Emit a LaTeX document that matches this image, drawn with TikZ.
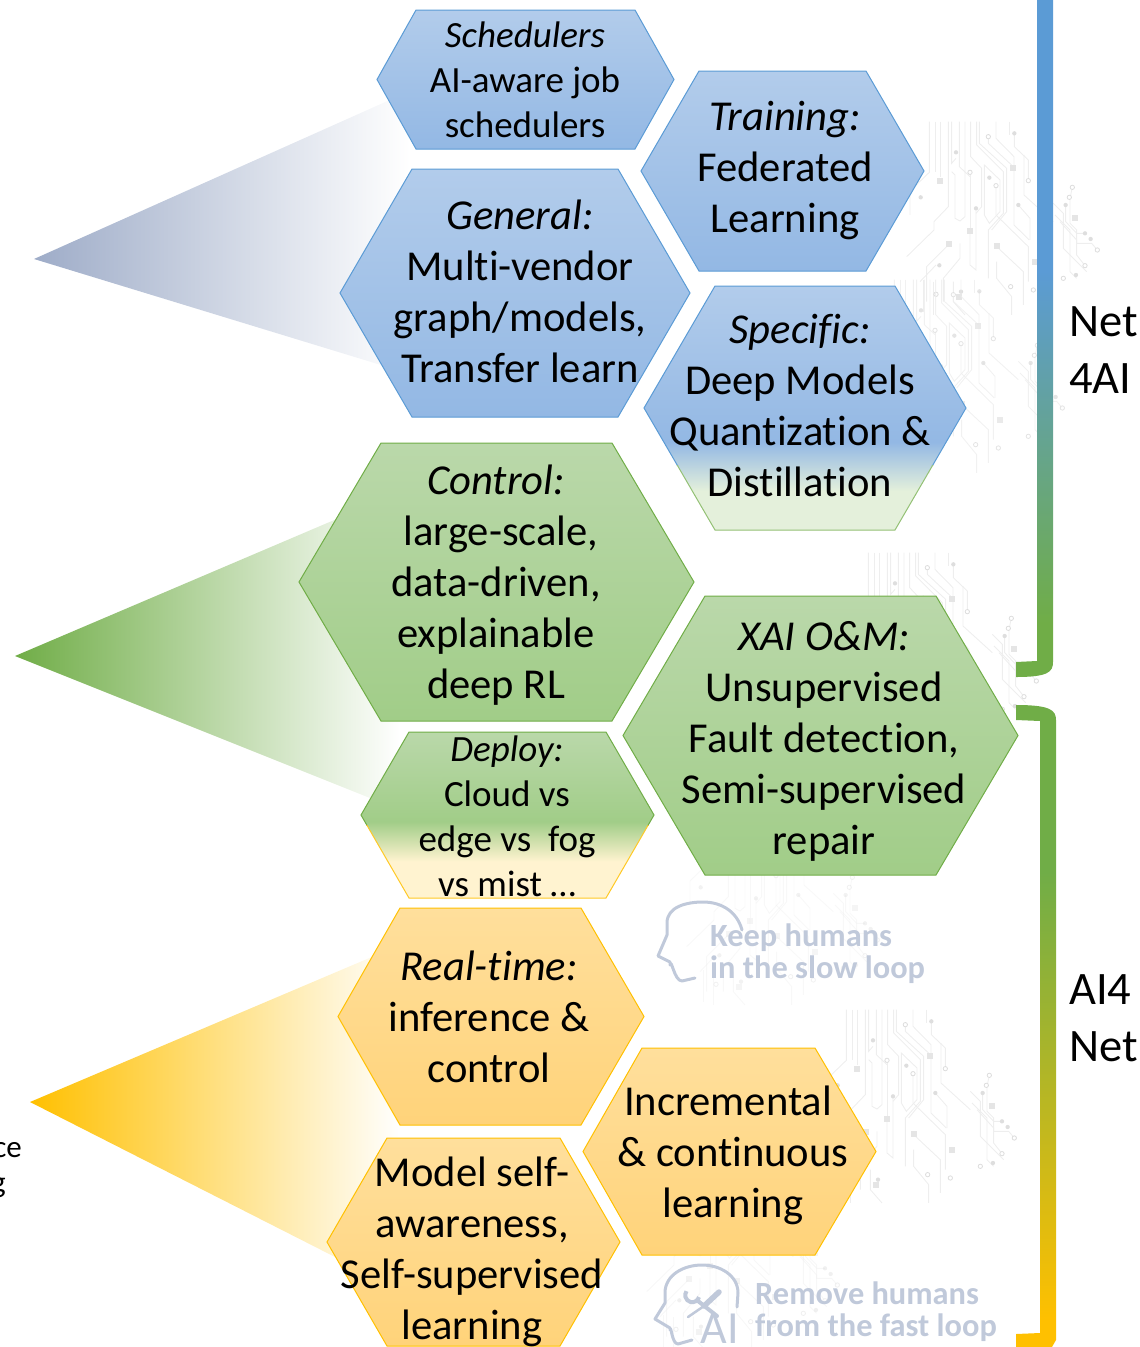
\documentclass[tikz,border=0pt]{standalone}
\usepackage{fontspec}
\setmainfont[Ligatures=CommonOff]{Carlito}
\usetikzlibrary{calc}
\definecolor{bluetop}{RGB}{178,204,235}
\definecolor{bluebot}{RGB}{147,184,228}
\definecolor{greentop}{RGB}{186,216,170}
\definecolor{greenbot}{RGB}{161,205,136}
\definecolor{yeltop}{RGB}{255,223,156}
\definecolor{yelbot}{RGB}{255,211,122}
\definecolor{paleg}{RGB}{228,240,219}
\definecolor{paley}{RGB}{255,243,208}
\definecolor{msblue}{RGB}{91,155,213}
\definecolor{msgreen}{RGB}{112,173,71}
\definecolor{msyel}{RGB}{255,192,0}
\definecolor{slateb}{RGB}{158,172,200}
\definecolor{ghost}{RGB}{192,201,218}
\definecolor{trace}{RGB}{238,238,238}
\definecolor{tracedot}{RGB}{222,222,222}
\definecolor{tracebox}{RGB}{229,229,229}
\pgfdeclareverticalshading{shblue}{100bp}{color(0bp)=(bluebot);color(25bp)=(bluebot);color(75bp)=(bluetop);color(100bp)=(bluetop)}
\pgfdeclareverticalshading{shgreen}{100bp}{color(0bp)=(greenbot);color(25bp)=(greenbot);color(75bp)=(greentop);color(100bp)=(greentop)}
\pgfdeclareverticalshading{shyel}{100bp}{color(0bp)=(yelbot);color(25bp)=(yelbot);color(75bp)=(yeltop);color(100bp)=(yeltop)}
\pgfdeclareverticalshading{shspec}{100bp}{color(0bp)=(paleg);color(25bp)=(paleg);color(33bp)=(paleg);color(43bp)=(bluebot);color(75bp)=(bluetop);color(100bp)=(bluetop)}
\pgfdeclareverticalshading{shdep}{100bp}{color(0bp)=(paley);color(25bp)=(paley);color(36bp)=(paley);color(48bp)=(greenbot);color(75bp)=(greentop);color(100bp)=(greentop)}
\pgfdeclareverticalshading{shbrtop}{100bp}{color(0bp)=(msgreen);color(29bp)=(msgreen);color(55bp)=(msblue);color(100bp)=(msblue)}
\pgfdeclareverticalshading{shbrlow}{100bp}{color(0bp)=(msyel);color(27bp)=(msyel);color(62bp)=(msgreen);color(100bp)=(msgreen)}
\tikzset{
  hexblue/.style={draw=msblue,line width=1pt,shading=shblue},
  hexgreen/.style={draw=msgreen,line width=1pt,shading=shgreen},
  hexyel/.style={draw=msyel,line width=1pt,shading=shyel},
  hexspec/.style={shading=shspec},
  hexdep/.style={shading=shdep},
  lab/.style={align=center,inner sep=0pt,text=black},
  biglab/.style={lab,font=\fontsize{42.6}{51}\selectfont},
  smalllab/.style={lab,font=\fontsize{37}{45}\selectfont},
  sidelab/.style={align=left,inner sep=0pt,anchor=west,font=\fontsize{46.5}{57.5}\selectfont},
  ghostlab/.style={align=left,inner sep=0pt,anchor=west,text=ghost,font=\fontsize{32.4}{32}\selectfont\bfseries},
  headline/.style={draw=ghost,line width=3pt,line cap=round,line join=round},
  trc/.style={draw=trace,line width=.9pt},
}
% style, xl, xa, xb, xr, yt, yb
\newcommand{\hexa}[7]{%
  \pgfmathsetmacro{\ymid}{(#6+#7)/2}
  \path[#1] (#2,\ymid)--(#3,#6)--(#4,#6)--(#5,\ymid)--(#4,#7)--(#3,#7)--cycle;}
\newcommand{\tile}[3]{%
\begin{scope}[shift={(#1pt,-#2pt)},x=.3333pt,y=-.3333pt,opacity=#3]
  \foreach \p in {
   {(28,20)--(28,172)--(-30,228)--(-30,300)},
   {(45,20)--(45,170)},
   {(62,20)--(62,185)},
   {(85,20)--(85,275)--(42,320)--(42,345)--(-40,425)},
   {(95,20)--(95,145)--(108,130)},
   {(95,170)--(105,180)--(105,310)--(120,318)--(135,305)--(135,20)},
   {(118,20)--(118,155)--(150,185)},
   {(150,175)--(150,340)},
   {(152,20)--(152,125)--(185,160)--(185,275)--(168,295)},
   {(170,20)--(170,90)--(250,170)--(250,295)--(205,345)--(205,490)},
   {(178,20)--(178,85)--(260,160)--(260,290)--(215,345)},
   {(205,65)--(205,85)--(280,155)},
   {(228,20)--(228,70)--(282,125)--(282,330)--(328,375)},
   {(268,20)--(268,60)},
   {(283,55)--(283,95)--(325,135)--(325,195)},
   {(312,120)--(312,240)--(400,320)},
   {(193,150)--(193,300)--(208,325)--(240,290)--(240,195)--cycle},
   {(228,212)--(228,300)--(325,395)--(325,500)},
   {(168,280)--(168,465)--(150,450)--(150,340)},
   {(120,385)--(120,430)--(70,490)--(70,560)},
   {(85,390)--(20,455)--(20,560)},
   {(48,450)--(0,500)},
   {(230,395)--(310,470)--(310,570)},
   {(230,440)--(230,490)--(275,545)--(275,600)},
   {(400,265)--(430,295)--(430,400)--(500,470)},
   {(457,217)--(450,250)--(450,325)--(470,345)--(470,385)--(515,385)--(532,405)},
   {(437,270)--(437,320)--(470,355)--(495,355)},
   {(405,300)--(450,345)--(450,470)--(470,490)},
   {(420,320)--(470,375)--(470,420)--(495,452)},
   {(295,270)--(330,310)--(330,375)},
   {(10,495)--(10,590)},{(40,500)--(40,600)},{(100,500)--(100,560)--(135,600)}
  }{\draw[trc] \p;}
  \foreach \q in {(283,55),(108,112),(208,188),(168,280),(295,270),(437,270),(495,355),(512,372),(2,247),(58,451),(123,530),(468,480)}{\fill[tracedot] \q circle[radius=6.5];}
  \foreach \q in {(205,65),(150,172),(228,212),(325,197),(457,217),(448,247),(532,405),(495,452),(430,490),(272,515),(340,525),(48,538)}{\draw[trace!85!gray,fill=white,line width=.8pt] \q circle[radius=6.5];}
  \foreach \q in {(60,197),(280,160),(150,348),(86,388),(230,394),(466,308),(118,545),(345,440)}{\fill[tracebox] \q ++(-9,-9) rectangle ++(18,18);}
\end{scope}}
\begin{document}
\begin{tikzpicture}[x=1pt,y=-1pt]
\useasboundingbox (0,0) rectangle (1140,1347);
% circuit backgrounds
\tile{920}{115}{1}
\tile{885}{273}{.8}
\tile{859}{546}{1}
\tile{837}{1003}{1}
\tile{700}{805}{.4}
\tile{660}{1150}{.45}
% pointers
\begin{scope}
\clip (34,259)--(430,82)--(430,380)--cycle;
\shade[left color=slateb,right color=white] (34,60) rectangle (410,400);
\end{scope}
\begin{scope}
\clip (15,656)--(400,492)--(400,810)--cycle;
\shade[left color=msgreen,right color=white] (15,470) rectangle (400,830);
\end{scope}
\begin{scope}
\clip (30,1102)--(400,945)--(400,1290)--cycle;
\shade[left color=msyel,right color=white] (30,930) rectangle (400,1310);
\end{scope}
% hexagons
\hexa{hexblue}{377}{416}{635}{674}{10}{149}
\hexa{hexblue}{641}{699}{866}{924}{71}{271}
\hexa{hexblue}{340}{412}{618}{690}{169}{417}
\hexa{hexspec}{644}{715}{895}{966}{286}{530}
\begin{scope}
\clip (600,280) rectangle (1000,465);
\hexa{draw=msblue,line width=1pt}{644}{715}{895}{966}{286}{530}
\end{scope}
\begin{scope}
\clip (600,465) rectangle (1000,540);
\hexa{draw=msgreen!75!white,line width=1pt}{644}{715}{895}{966}{286}{530}
\end{scope}
\hexa{hexgreen}{299}{381}{612}{694}{443}{721}
\hexa{hexgreen}{623}{705}{936}{1018}{596}{875}
\hexa{hexdep}{361}{409}{606}{654}{732}{898}
\begin{scope}
\clip (340,725) rectangle (670,825);
\hexa{draw=msgreen,line width=1pt}{361}{409}{606}{654}{732}{898}
\end{scope}
\begin{scope}
\clip (340,825) rectangle (670,905);
\hexa{draw=msyel!85!white,line width=1pt}{361}{409}{606}{654}{732}{898}
\end{scope}
\hexa{hexyel}{338}{400}{581}{644}{908}{1125}
\hexa{hexyel}{583}{642}{815}{876}{1048}{1255}
\hexa{hexyel}{327}{387}{560}{620}{1138}{1346}
% hexagon texts
\node[smalllab] (sched) at (525,80) {\textit{Schedulers}\\AI-aware job\\schedulers};
\node[biglab] (train) at (785,171) {\textit{Training:}\\Federated\\Learning};
\node[biglab] (gen) at (520,291) {\textit{General:}\\Multi-vendor\\graph/models,\\Transfer learn};
\node[biglab] (spec) at (800,405.5) {\textit{Specific:}\\Deep Models\\Quantization \&\\Distillation};
\node[biglab] (ctrl) at (496,585.5) {\textit{Control:}\\\hspace*{10pt}large-scale,\\data-driven,\\explainable\\deep RL};
\node[biglab] (xai) at (824,741) {\textit{XAI O\&M:}\\Unsupervised\\Fault detection,\\Semi-supervised\\repair};
\node[smalllab] (dep) at (507,816) {\textit{Deploy:}\\Cloud vs\\edge vs~ fog\\vs mist …};
\node[biglab] (rt) at (489,1016.5) {\textit{Real-time:}\\inference \&\\control};
\node[biglab] (inc) at (733,1155) {\hspace*{-10pt}Incremental\\\& continuous\\learning};
\node[biglab] (self) at (472,1252) {Model self-\\awareness,\\Self-supervised\\learning};
% cut-off labels at left edge
\node[inner sep=0pt,anchor=east,font=\fontsize{31}{36}\selectfont] (cutce) at (22,1150) {ce};
\node[inner sep=0pt,anchor=east,font=\fontsize{31}{36}\selectfont] (cutg) at (6,1188) {g};
% ghost labels and head icons
\draw[headline] (695,978)--(682,981) to[out=180,in=80] (670,965) --(670,962)--(658,956)--(667,935)--(667,923) to[out=90,in=180] (703,902) to[out=0,in=105] (742,930);
\node[ghostlab] (keep) at (710,954) {Keep humans\\in the slow loop};
\draw[headline] (692,1340)--(678,1344) to[out=180,in=80] (670,1330)--(670,1328)--(655,1319)--(665,1303)--(665,1293) to[out=90,in=180] (702,1265) to[out=0,in=90] (738,1293)--(737,1307);
\draw[ghost,line width=5.5pt,line cap=round] (719,1292)--(704,1306);
\draw[ghost,line width=2.5pt,line cap=round] (704,1306)--(688,1317);
\draw[ghost,line width=4pt,line cap=round] (698,1301)--(717,1316);
\draw[ghost,line width=4pt] (699,1297) arc[start angle=15,end angle=215,radius=7];
\node[inner sep=0pt,text=ghost,font=\fontsize{46}{46}\selectfont] (ailogo) at (720,1329) {AI};
\node[ghostlab] (remove) at (755,1312) {Remove humans\\from the fast loop};
% brackets
\path[shading=shbrtop] (1037,0)--(1053,0)--(1053,662) .. controls (1053,672) and (1048,677) .. (1016,677)--(1016,662)--(1037,661)--cycle;
\path[shading=shbrlow] (1016,1347)--(1052,1347)--(1056,1340)--(1056,720) .. controls (1056,710) and (1050,705) .. (1016,705)--(1016,720)--(1040,721)--(1040,1333)--(1016,1334)--cycle;
% side labels
\node[sidelab] (net4ai) at (1069,350) {Net\\4AI};
\node[sidelab] (ai4net) at (1069,1018) {AI4\\Net};
\end{tikzpicture}
\end{document}
